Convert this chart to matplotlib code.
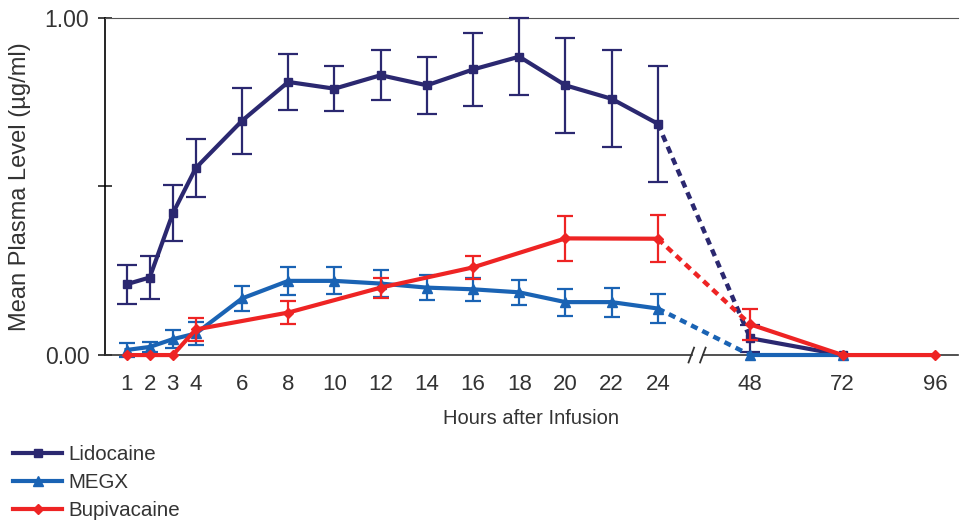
import matplotlib
matplotlib.use("Agg")
import matplotlib.pyplot as plt
from matplotlib.lines import Line2D
from matplotlib.patches import Rectangle

plt.rcParams["font.family"] = ["Liberation Sans", "DejaVu Sans"]

# x axis hours (axis is broken after 24 h)
tick_hours = [1, 2, 3, 4, 6, 8, 10, 12, 14, 16, 18, 20, 22, 24, 48, 72, 96]

lido_hours = [1, 2, 3, 4, 6, 8, 10, 12, 14, 16, 18, 20, 22, 24, 48, 72]
lido_mean = [0.21, 0.23, 0.42, 0.555, 0.695, 0.81, 0.79, 0.83, 0.80, 0.847, 0.885, 0.80, 0.76, 0.686, 0.05, 0.0]
lido_err = [0.058, 0.063, 0.083, 0.085, 0.098, 0.083, 0.067, 0.074, 0.084, 0.108, 0.114, 0.14, 0.144, 0.172, 0.04, 0.0]

megx_hours = [1, 2, 3, 4, 6, 8, 10, 12, 14, 16, 18, 20, 22, 24, 48, 72]
megx_mean = [0.015, 0.024, 0.047, 0.064, 0.168, 0.22, 0.22, 0.212, 0.20, 0.195, 0.186, 0.157, 0.157, 0.138, 0.0, 0.0]
megx_err = [0.02, 0.015, 0.027, 0.035, 0.037, 0.042, 0.04, 0.04, 0.037, 0.035, 0.038, 0.04, 0.043, 0.043, 0.0, 0.0]

bupi_hours = [1, 2, 3, 4, 8, 12, 16, 20, 24, 48, 72, 96]
bupi_mean = [0.0, 0.0, 0.0, 0.076, 0.126, 0.20, 0.26, 0.346, 0.345, 0.091, 0.0, 0.0]
bupi_err = [0.0, 0.0, 0.0, 0.033, 0.033, 0.03, 0.035, 0.066, 0.07, 0.046, 0.0, 0.0]

LIDO_C = "#2b2870"
MEGX_C = "#1a63b4"
BUPI_C = "#ee2424"
TEXT_C = "#333333"


def pos(h):
    # compress the part after the axis break: 24 h -> 4 units
    return h if h <= 24 else 24 + (h - 24) / 6.0


def draw(ax, hours, mean, err, color, marker, ms, cap, z):
    x = [pos(h) for h in hours]
    ex = [(xi, m, e) for xi, m, e in zip(x, mean, err) if e > 0]
    ax.errorbar([a for a, _, _ in ex], [b for _, b, _ in ex], yerr=[c for _, _, c in ex],
                fmt="none", ecolor=color, elinewidth=1.6, capsize=cap, capthick=1.6,
                zorder=z, clip_on=False)
    i24 = hours.index(24)
    i48 = hours.index(48)
    kw = dict(color=color, lw=3, marker=marker, ms=ms, zorder=z + 0.5, clip_on=False)
    ax.plot(x[:i24 + 1], mean[:i24 + 1], **kw)
    ax.plot(x[i48:], mean[i48:], **kw)
    ax.plot(x[i24:i48 + 1], mean[i24:i48 + 1], color=color, lw=3.2,
            ls=(0, (1.6, 1.2)), zorder=z, clip_on=False)


fig = plt.figure(figsize=(9.6, 5.26), dpi=100)
ax = fig.add_axes([0.109, 0.325, 0.889, 0.641])

draw(ax, lido_hours, lido_mean, lido_err, LIDO_C, "s", 6, 7, 3)
draw(ax, megx_hours, megx_mean, megx_err, MEGX_C, "^", 7, 5.5, 4)
draw(ax, bupi_hours, bupi_mean, bupi_err, BUPI_C, "D", 5.5, 5.5, 5)

ax.set_xlim(0.05, 37.0)
ax.set_ylim(0, 1.0)
ax.set_xticks([pos(h) for h in tick_hours])
ax.set_xticklabels([str(h) for h in tick_hours])
ax.set_yticks([0, 0.5, 1.0])
ax.set_yticklabels(["0.00", "", "1.00"])
ax.tick_params(axis="x", length=0, pad=14, labelsize=16, colors=TEXT_C)
ax.tick_params(axis="y", direction="inout", length=10, width=1.2, pad=6,
               labelsize=16.5, colors="#222222", labelcolor=TEXT_C)

ax.spines["right"].set_visible(False)
ax.spines["top"].set_color("#555555")
ax.spines["bottom"].set_color("#333333")
ax.spines["left"].set_linewidth(1.2)
ax.spines["bottom"].set_linewidth(1.2)

ax.set_xlabel("Hours after Infusion", fontsize=14.5, color=TEXT_C, labelpad=10)
ax.set_ylabel("Mean Plasma Level (\u00b5g/ml)", fontsize=17, color=TEXT_C, labelpad=10)

# axis break marks
bx = pos(24) + 1.7
ax.add_patch(Rectangle((bx - 0.18, -0.02), 0.36, 0.04, color="white",
                       transform=ax.transData, clip_on=False, zorder=6))
for dx in (-0.25, 0.25):
    ax.plot([bx + dx - 0.12, bx + dx + 0.12], [-0.022, 0.022], color="#333333",
            lw=1.3, clip_on=False, zorder=7)

handles = [
    Line2D([], [], color=LIDO_C, lw=3, marker="s", ms=6),
    Line2D([], [], color=MEGX_C, lw=3, marker="^", ms=7),
    Line2D([], [], color=BUPI_C, lw=3, marker="D", ms=5.5),
]
fig.legend(handles, ["Lidocaine", "MEGX", "Bupivacaine"], loc="upper left",
           bbox_to_anchor=(0.005, 0.17), frameon=False, fontsize=14.8,
           handlelength=2.4, handletextpad=0.3, labelspacing=0.45,
           borderaxespad=0, labelcolor=TEXT_C)

fig.savefig("out.png", dpi=100)
